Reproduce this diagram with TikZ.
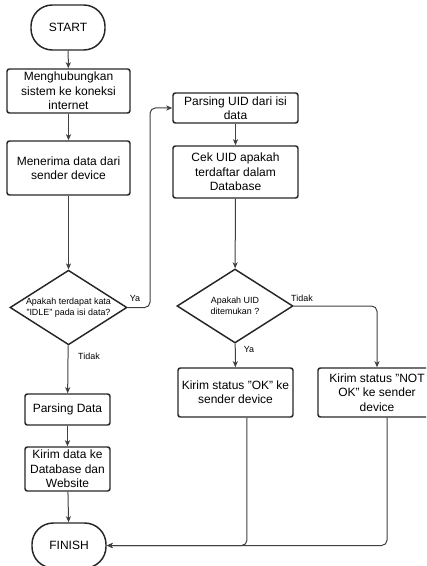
\documentclass[tikz,border=0pt]{standalone}
\usepackage{fontspec}
\setmainfont{Liberation Sans}
\usetikzlibrary{shapes.geometric,arrows.meta,calc}
\begin{document}
\begin{tikzpicture}[x=0.75pt,y=-0.75pt,
  boxnode/.style={draw=black!85,line width=1.1pt,rounded corners=1.8pt,align=center,
    font=\fontsize{9}{10.8}\selectfont,inner sep=1pt},
  termnode/.style={draw=black!85,line width=1.1pt,rounded corners=16pt,
    minimum width=55.5pt,minimum height=33.75pt,font=\fontsize{9}{10.8}\selectfont},
  decnode/.style={draw=black!85,line width=1.1pt,diamond,inner sep=0pt,
    minimum width=87.75pt,minimum height=56pt,aspect=1.56},
  dectext/.style={align=center,font=\fontsize{6.7}{8.3}\selectfont},
  lbl/.style={font=\fontsize{6.7}{8}\selectfont},
  conn/.style={draw=black!75,line width=0.75pt},
  arr/.style={conn,-{Stealth[length=4.5pt,width=3.8pt,inset=1.2pt]}}
]
\useasboundingbox (0,0) rectangle (426,566);
\clip (0,0) rectangle (426,566);

% left column
\node[termnode] (start) at (68,27.5) {START};
\node[boxnode,minimum width=92.25pt,minimum height=33pt] (b1) at (68.5,91)
  {Menghubungkan\\sistem ke koneksi\\internet};
\node[boxnode,minimum width=92.25pt,minimum height=40.5pt] (b2) at (68.5,168)
  {Menerima data dari\\sender device};
\node[decnode,label={[dectext]center:Apakah terdapat kata\\"IDLE" pada isi data?}] (d1) at (68.5,307.5) {};
\node[boxnode,minimum width=63.75pt,minimum height=23.25pt] (pd) at (67.5,409.5) {Parsing Data};
\node[boxnode,minimum width=63.75pt,minimum height=33pt] (kd) at (67.5,469)
  {Kirim data ke\\Database dan\\Website};
\node[termnode] (finish) at (69,545.5) {FINISH};

% right part
\node[boxnode,minimum width=93.75pt,minimum height=22.5pt] (pu) at (235.5,108)
  {Parsing UID dari isi\\data};
\node[boxnode,minimum width=93.75pt,minimum height=39pt] (cu) at (235.5,172)
  {Cek UID apakah\\terdaftar dalam\\Database};
\node[decnode,minimum width=87pt,minimum height=55.5pt,label={[dectext]center:Apakah UID\\ditemukan ?}] (d2) at (235,306) {};
\node[boxnode,minimum width=86.25pt,minimum height=36.75pt] (ok) at (235.5,392.5)
  {Kirim status "OK" ke\\sender device};
\node[boxnode,minimum width=88.5pt,minimum height=36.75pt] (nok) at (377,392.5)
  {Kirim status "NOT\\OK" ke sender\\device};

% connectors
\draw[arr] (start) -- (b1);
\draw[arr] (b1) -- (b2);
\draw[arr] (b2) -- (d1);
\draw[arr,rounded corners=4pt] (d1.east) -- (150,307.5) |- (pu.west);
\node[lbl] (ya1) at (135,298) {Ya};
\draw[arr] (d1) -- (pd);
\node[lbl] (tidak1) at (89,356) {Tidak};
\draw[arr] (pd) -- (kd);
\draw[arr] (kd) -- (finish);

\draw[arr] (pu) -- (cu);
\draw[arr] (cu) -- (d2);
\draw[arr] (d2) -- (ok);
\node[lbl] (ya2) at (249,349) {Ya};
\draw[arr,rounded corners=4pt] (d2.east) -| (nok.north);
\node[lbl] (tidak2) at (302,298) {Tidak};

\draw[arr,rounded corners=4pt] ([xshift=8.6pt]ok.south) |- (finish.east);
\draw[arr,rounded corners=4pt] ([xshift=7.5pt]nok.south) |- (finish.east);
\end{tikzpicture}
\end{document}
